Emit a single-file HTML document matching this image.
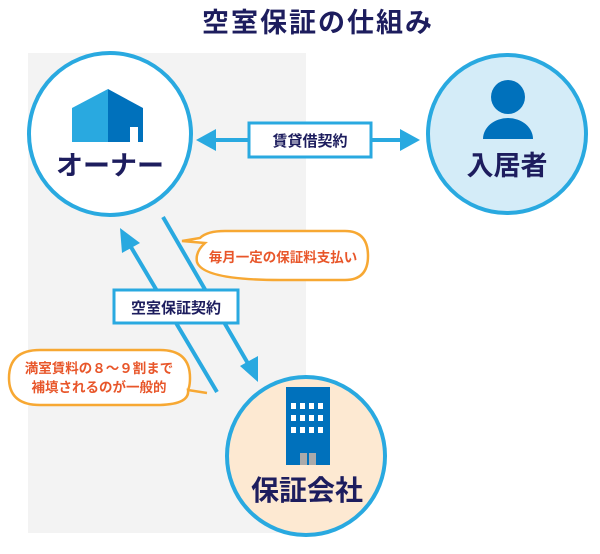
<!DOCTYPE html>
<html><head><meta charset="utf-8"><style>
body{margin:0;background:#fff;}
svg text{font-family:"Liberation Sans","Noto Sans CJK JP",sans-serif;font-weight:bold;}
</style></head><body>
<svg width="600" height="549" viewBox="0 0 600 549" xmlns="http://www.w3.org/2000/svg">
<rect x="28" y="53" width="278" height="480" fill="#f3f3f3"/>
<text x="318" y="32" font-size="27" fill="#1d1d5e" text-anchor="middle" letter-spacing="2">空室保証の仕組み</text>

<!-- owner -->
<circle cx="110" cy="134" r="81" fill="#fff" stroke="#29a9e0" stroke-width="4"/>
<polygon points="72,108 108,89 108,142 72,142" fill="#29a9e0"/>
<polygon points="108,89 143,108 143,142 108,142" fill="#0071bc"/>
<rect x="130" y="127" width="8" height="15" fill="#fff"/>
<text x="110" y="175" font-size="27" fill="#1d1d5e" text-anchor="middle">オーナー</text>

<!-- resident -->
<circle cx="507" cy="134" r="79" fill="#d4ecf8" stroke="#29a9e0" stroke-width="4"/>
<circle cx="508" cy="97" r="17" fill="#0071bc"/>
<path d="M483,139 A25,21 0 0 1 533,139 Z" fill="#0071bc"/>
<text x="507" y="175" font-size="27" fill="#1d1d5e" text-anchor="middle">入居者</text>

<!-- guarantee company -->
<circle cx="306" cy="456" r="79" fill="#fde9d2" stroke="#29a9e0" stroke-width="4"/>
<rect x="286" y="387" width="44" height="78" fill="#0071bc"/>
<g fill="#fff">
<rect x="291" y="403" width="5" height="6"/><rect x="300" y="403" width="5" height="6"/><rect x="309" y="403" width="5" height="6"/><rect x="318" y="403" width="5" height="6"/>
<rect x="291" y="415" width="5" height="6"/><rect x="300" y="415" width="5" height="6"/><rect x="309" y="415" width="5" height="6"/><rect x="318" y="415" width="5" height="6"/>
<rect x="291" y="427" width="5" height="6"/><rect x="300" y="427" width="5" height="6"/><rect x="309" y="427" width="5" height="6"/><rect x="318" y="427" width="5" height="6"/>
</g>
<rect x="300" y="453" width="7" height="12" fill="#aaa"/><rect x="309" y="453" width="7" height="12" fill="#aaa"/>
<text x="307" y="500" font-size="28" fill="#1d1d5e" text-anchor="middle">保証会社</text>

<!-- horizontal arrow -->
<line x1="210" y1="140" x2="405" y2="140" stroke="#29a9e0" stroke-width="4"/>
<polygon points="196,140 216,129 216,151" fill="#29a9e0"/>
<polygon points="420,140 400,129 400,151" fill="#29a9e0"/>
<rect x="249" y="123" width="122" height="34" fill="#fff" stroke="#29a9e0" stroke-width="3"/>
<text x="310" y="146" font-size="15" fill="#1d1d5e" text-anchor="middle">賃貸借契約</text>

<!-- diagonal arrows -->
<line x1="217" y1="392" x2="128" y2="242" stroke="#29a9e0" stroke-width="4"/>
<polygon points="120,228 140,243 122,253" fill="#29a9e0"/>
<line x1="163" y1="217" x2="250" y2="367" stroke="#29a9e0" stroke-width="4"/>
<polygon points="258,382 240,366 258,356" fill="#29a9e0"/>
<rect x="114" y="290" width="124" height="33" fill="#fff" stroke="#29a9e0" stroke-width="3"/>
<text x="176" y="313" font-size="15" fill="#1d1d5e" text-anchor="middle">空室保証契約</text>

<!-- bubbles -->
<path d="M182,241 L205,243 Q195,252 197,262 Q203,280 280,280 L345,280 Q368,280 368,256 Q368,231 345,231 L225,231 Q207,231 200,238 Z" fill="#fff" stroke="#f7a833" stroke-width="2.5"/>
<text x="283" y="262" font-size="13.5" fill="#e8562a" text-anchor="middle" font-weight="normal">毎月一定の保証料支払い</text>
<path d="M207,393 L188,390 Q190,404 160,405 L40,405 Q9,405 9,378 Q9,350 40,350 L160,350 Q190,350 190,378 Q190,386 188,390" fill="#fff" stroke="#f7a833" stroke-width="2.5"/>
<text x="99" y="373" font-size="13.5" fill="#e8562a" text-anchor="middle" font-weight="normal">満室賃料の８～９割まで</text>
<text x="99" y="392" font-size="13.5" fill="#e8562a" text-anchor="middle" font-weight="normal">補填されるのが一般的</text>
</svg>
</body></html>
